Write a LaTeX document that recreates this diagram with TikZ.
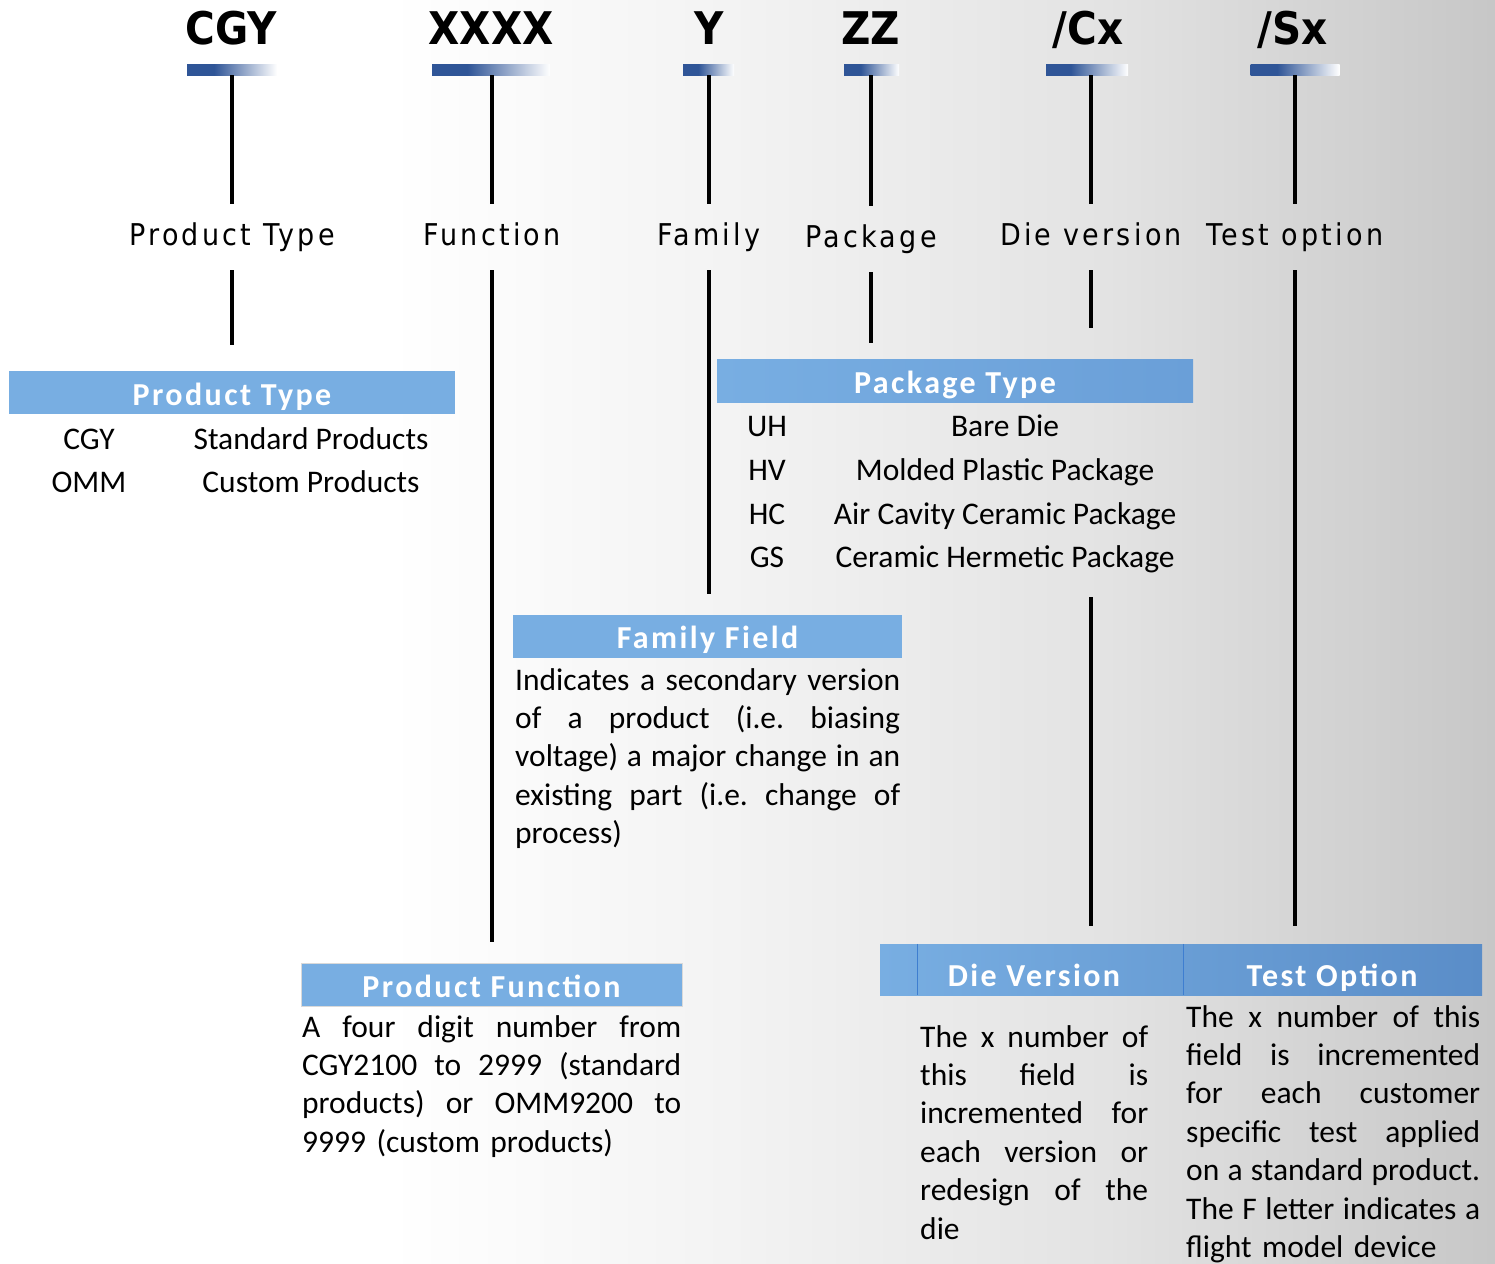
\documentclass[tikz,border=0pt]{standalone}
\usepackage{fontspec}
\setmainfont{Carlito}
\newfontfamily\codefont{DejaVu Sans Condensed}
\newfontfamily\labelfont[LetterSpace=11]{DejaVu Sans Condensed}
\newfontfamily\hdrfont[LetterSpace=7.5]{Carlito}
\usetikzlibrary{positioning}

\definecolor{codeblue}{HTML}{2F5597}
\definecolor{hdrblue}{HTML}{78AEE2}
\definecolor{hdrmid}{HTML}{6A9FD8}
\definecolor{hdrdark}{HTML}{5A8DC8}
\definecolor{divblue}{HTML}{3E7ED0}

\pgfdeclarehorizontalshading{barfade}{100bp}{color(0bp)=(codeblue); color(40bp)=(codeblue); color(75bp)=(white); color(100bp)=(white)}
\pgfdeclarehorizontalshading{bgfade}{100bp}{color(0bp)=(white); color(38bp)=(white); color(50bp)=(black!5); color(62bp)=(black!11); color(75bp)=(black!22); color(100bp)=(black!22)}

% one justified line of a paragraph
\newcommand{\jl}[1]{\leavevmode\hbox to \hsize{\spaceskip=0.226em plus 1fil minus 0.08em\xspaceskip=\spaceskip #1}}

\tikzset{
  code/.style    = {font=\codefont\bfseries\fontsize{45}{50}\selectfont, inner sep=0pt, anchor=base},
  codebar/.style = {shade, shading=barfade, minimum height=11pt, inner sep=0pt},
  field/.style   = {font=\labelfont\fontsize{30}{36}\selectfont, minimum height=66pt, inner sep=0pt, text height=22pt, text depth=6pt},
  link/.style    = {line width=4pt},
  headtext/.style = {text=white, inner sep=0pt, text height=25pt, text depth=0pt, font=\hdrfont\bfseries\fontsize{32}{38}\selectfont},
  head/.style    = {headtext, fill=hdrblue, minimum height=43pt},
  body/.style    = {font=\fontsize{31.5}{38.4}\selectfont, inner sep=0pt},
  row/.style     = {body, anchor=base},
  para/.style    = {body, align=left, anchor=base west},
  divider/.style = {divblue, line width=1pt}
}

\begin{document}
\begin{tikzpicture}[x=1pt, y=-1pt]
\useasboundingbox (0,0) rectangle (1495,1263);
\shade[shading=bgfade] (0,0) rectangle (1495,1263);

% part number fields
\node[code] (cgy)  at (231,45)  {CGY};
\node[code] (xxxx) at (491,45)  {XXXX};
\node[code] (yy)   at (709,45)  {Y};
\node[code] (zz)   at (871,45)  {ZZ};
\node[code] (cx)   at (1088,45) {/Cx};
\node[code] (sx)   at (1293,45) {/Sx};

\node[codebar, minimum width=90pt]  (cgybar)  at (232,69.5)   {};
\node[codebar, minimum width=118pt] (xxxxbar) at (491,69.5)   {};
\node[codebar, minimum width=51pt]  (ybar)    at (708.5,69.5) {};
\node[codebar, minimum width=55pt]  (zzbar)   at (871.5,69.5) {};
\node[codebar, minimum width=82pt]  (cxbar)   at (1087,69.5)  {};
\node[codebar, minimum width=89pt]  (sxbar)   at (1295,69.5)  {};

% field names
\node[field] (ptype)   at (232,237)  {Product Type};
\node[field] (func)    at (492,237)  {Function};
\node[field] (family)  at (709,237)  {Family};
\node[field] (package) at (871,239)  {Package};
\node[field] (dieversion) at (1091,237) {Die version};
\node[field] (testoption) at (1295,237) {Test option};

% product type table
\node[head, minimum width=446pt] (pthead) at (232,392.5) {Product Type};
\node[row] (cgyrow)  at (89,449)  {CGY};
\node[row] (stdrow)  at (311,449) {Standard Products};
\node[row] (ommrow)  at (89,492)  {OMM};
\node[row] (custrow) at (311,492) {Custom Products};

% package type table
\node[head, shade, left color=hdrblue, right color=hdrmid, minimum width=476pt] (pkhead) at (955,380.5) {Package Type};
\node[row] (uh) at (767,436)  {UH};
\node[row] (uhtext) at (1005,436) {Bare Die};
\node[row] (hv) at (767,480)  {HV};
\node[row] (hvtext) at (1005,480) {Molded Plastic Package};
\node[row] (hc) at (767,524)  {HC};
\node[row] (hctext) at (1005,524) {Air Cavity Ceramic Package};
\node[row] (gs) at (767,567)  {GS};
\node[row] (gstext) at (1005,567) {Ceramic Hermetic Package};

% family field
\node[head, minimum width=389pt] (ffhead) at (707.5,636) {Family Field};
\node[para, text width=385pt] (fftext) at (515,690) {%
  \jl{Indicates a secondary version}\\
  \jl{of a product (i.e. biasing}\\
  \jl{voltage) a major change in an}\\
  \jl{existing part (i.e. change of}\\
  process)};

% product function
\node[head, draw=black!15, minimum width=381pt] (pfhead) at (491.5,985) {Product Function};
\node[para, text width=379pt] (pftext) at (302,1037) {%
  \jl{A four digit number from}\\
  \jl{CGY2100 to 2999 (standard}\\
  \jl{products) or OMM9200 to}\\
  9999 (custom products)};

% die version and test option
\node[shade, left color=hdrblue, right color=hdrdark, minimum width=602pt, minimum height=51pt, inner sep=0pt] (dtbar) at (1181,969.5) {};
\draw[divider] ([xshift=38pt]dtbar.north west) -- ([xshift=38pt]dtbar.south west);
\draw[divider] ([xshift=304pt]dtbar.north west) -- ([xshift=304pt]dtbar.south west);
\node[headtext] (dvhead) at (1034,973.8) {Die Version};
\node[headtext] (tohead) at (1332,973.8) {Test Option};

\node[para, text width=228pt] (dvtext) at (920,1047) {%
  \jl{The x number of}\\
  \jl{this field is}\\
  \jl{incremented for}\\
  \jl{each version or}\\
  \jl{redesign of the}\\
  die};
\node[para, text width=294pt] (totext) at (1186,1027) {%
  \jl{The x number of this}\\
  \jl{field is incremented}\\
  \jl{for each customer}\\
  \jl{specific test applied}\\
  \jl{on a standard product.}\\
  \jl{The F letter indicates a}\\
  flight model device};

% connectors from the fields down to their tables
\coordinate (cxstop)   at (1091,328);
\coordinate (cxresume) at (1091,597);

\draw[link] (ptype.north) -- (ptype.north |- cgybar.south);
\draw[link] (func.north) -- (func.north |- xxxxbar.south);
\draw[link] (family.north) -- (family.north |- ybar.south);
\draw[link] (package.north) -- (package.north |- zzbar.south);
\draw[link] (dieversion.north) -- (dieversion.north |- cxbar.south);
\draw[link] (testoption.north) -- (testoption.north |- sxbar.south);

\draw[link, shorten >=26pt] (ptype.south) -- (ptype.south |- pthead.north);
\draw[link, shorten >=21pt] (func.south) -- (func.south |- pfhead.north);
\draw[link, shorten >=20pt] (family.south) -- (family.south |- ffhead.north);
\draw[link, shorten >=16pt] (package.south) -- (package.south |- pkhead.north);
\draw[link] (dieversion.south) -- (cxstop);
\draw[link, shorten >=18pt] (cxresume) -- (cxresume |- dtbar.north);
\draw[link, shorten >=18pt] (testoption.south) -- (testoption.south |- dtbar.north);
\end{tikzpicture}
\end{document}
